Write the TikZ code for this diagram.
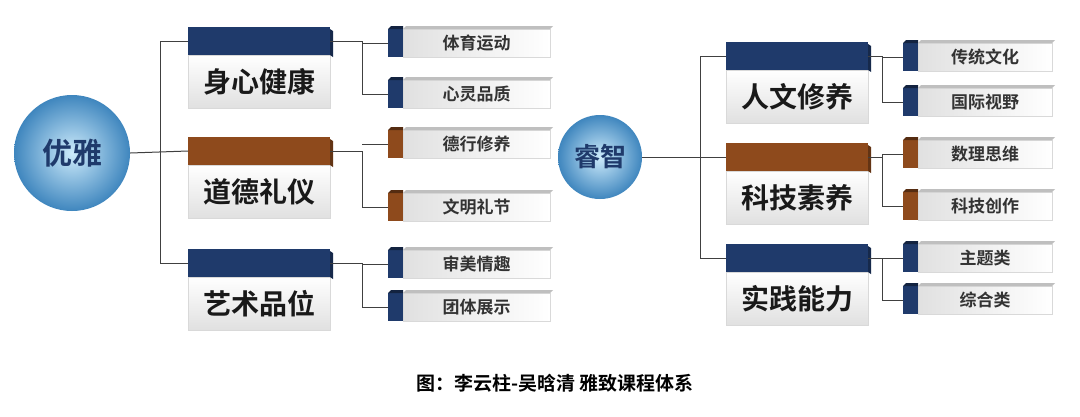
\documentclass[tikz,border=0pt]{standalone}
\usepackage{fontspec}
\newfontfamily\cjk{Noto Sans CJK SC}
\newfontfamily\cjkb{Noto Sans CJK SC Bold}
\definecolor{navy}{HTML}{1F3A6B}
\definecolor{brn}{HTML}{8E4A1C}
\definecolor{ln}{HTML}{404040}
\definecolor{ballin}{HTML}{CDEBFB}
\definecolor{ballout}{HTML}{3F86BE}
\begin{document}
\begin{tikzpicture}[x=1pt,y=-1pt,
 conn/.style={draw=ln,line width=1pt},
 ball/.style={circle,inner color=ballin,outer color=ballout,font=\cjkb,text=navy},
 subtxt/.style={font=\cjkb\fontsize{17}{17}\selectfont,text=black!80},
 cattxt/.style={font=\cjkb\fontsize{28}{28}\selectfont,text=black!90}]
\path[use as bounding box,fill=white] (0,0) rectangle (1080,416);
\def\cat#1#2#3#4#5{%
  \shade[top color=white,bottom color=black!12,draw=black!15] (#2,#3+28) rectangle (#2+142,#3+81);
  \fill[#4] (#2,#3) rectangle (#2+142,#3+28);
  \fill[#4!70!black] (#2+142,#3+2) -- (#2+145,#3+4) -- (#2+145,#3+30) -- (#2+142,#3+28) --cycle;
  \node[cattxt] (#1) at (#2+71,#3+55) {#5};
  \coordinate (#1L) at (#2,#3+14); \coordinate (#1R) at (#2+142,#3+14);}
\def\sub#1#2#3#4#5#6{%
  \shade[left color=black!12,right color=white,draw=black!15] (#2+15,#3-14) rectangle (#2+15+#6,#3+14);
  \fill[black!25] (#2+15,#3-14) -- (#2+18,#3-17) -- (#2+18+#6,#3-17) -- (#2+15+#6,#3-14) -- cycle;
  \fill[#4] (#2,#3-14) rectangle (#2+15,#3+14);
  \fill[#4!60!black] (#2,#3-14) -- (#2+3,#3-17) -- (#2+15,#3-17) -- (#2+15,#3-14) --cycle;
  \node[subtxt] (#1) at (#2+15+#6/2,#3) {#5};
  \coordinate (#1L) at (#2,#3);}
% left
\node[ball,minimum size=116pt,font=\cjkb\fontsize{30}{30}\selectfont] (A) at (72,153) {优雅};
\cat{a1}{188}{27}{navy}{身心健康}
\cat{a2}{188}{137}{brn}{道德礼仪}
\cat{a3}{188}{249}{navy}{艺术品位}
\sub{s1}{388}{43}{navy}{体育运动}{147}
\sub{s2}{388}{94}{navy}{心灵品质}{147}
\sub{s3}{388}{144}{brn}{德行修养}{147}
\sub{s4}{388}{207}{brn}{文明礼节}{147}
\sub{s5}{388}{264}{navy}{审美情趣}{147}
\sub{s6}{388}{307}{navy}{团体展示}{147}
\draw[conn] (A.east) -- (a2L);
\draw[conn] (a1L) -- (160,41) -- (160,263) -- (a3L);
\draw[conn] (a1R) -- (362,41) |- (s2L); \draw[conn] (362,43) -- (s1L);
\draw[conn] (a2R) -- (362,151) |- (s4L); \draw[conn] (362,144) |- (s3L);
\draw[conn] (a3R) -- (362,263) |- (s6L); \draw[conn] (362,263) |- (s5L);
% right
\node[ball,minimum size=84pt,font=\cjkb\fontsize{26}{26}\selectfont] (B) at (600,157) {睿智};
\cat{b1}{726}{42}{navy}{人文修养}
\cat{b2}{726}{143}{brn}{科技素养}
\cat{b3}{726}{244}{navy}{实践能力}
\sub{t1}{903}{57}{navy}{传统文化}{134}
\sub{t2}{903}{102}{navy}{国际视野}{134}
\sub{t3}{903}{154}{brn}{数理思维}{134}
\sub{t4}{903}{206}{brn}{科技创作}{134}
\sub{t5}{903}{258}{navy}{主题类}{134}
\sub{t6}{903}{300}{navy}{综合类}{134}
\draw[conn] (B.east) -- (b2L);
\draw[conn] (b1L) -- (700,56) -- (700,258) -- (b3L);
\draw[conn] (b1R) -- (882,56) |- (t2L); \draw[conn] (882,57) -- (t1L);
\draw[conn] (b2R) -- (882,157) |- (t4L); \draw[conn] (882,157) |- (t3L);
\draw[conn] (b3R) -- (882,258) |- (t6L); \draw[conn] (882,258) -- (t5L);
\node[font=\cjkb\fontsize{19}{19}\selectfont] (cap) at (555,383) {图：李云柱-吴晗清\ 雅致课程体系};
\end{tikzpicture}
\end{document}
